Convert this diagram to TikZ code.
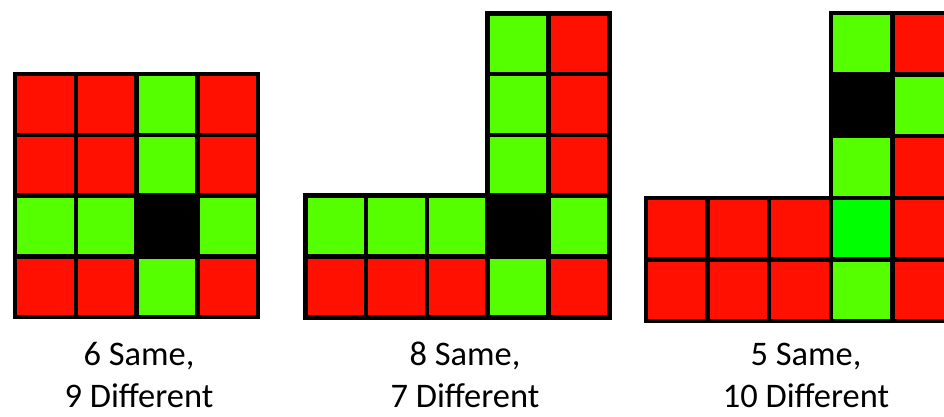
\documentclass[tikz,border=0pt]{standalone}
\usepackage{fontspec}
\setmainfont{Carlito}
\usepackage{tikz}
\usetikzlibrary{positioning}
\definecolor{cellred}{RGB}{255,16,0}
\definecolor{cellgreen}{RGB}{85,255,0}
\definecolor{celllime}{RGB}{0,255,0}

\begin{document}
\begin{tikzpicture}[x=0.025cm, y=-0.025cm]

\tikzset{
    cell/.style={draw=black, line width=0.1125cm, minimum size=1.52cm, inner sep=0pt},
    caption/.style={align=center, inner sep=0pt, font=\fontsize{24.5}{29.8}\selectfont}
}
\clip (0,0) rectangle (944,416);

% GRIGLIA 1 (4x4)
\begin{scope}[shift={(15,74)}]
    \foreach \row [count=\r from 0] in {{cellred,cellred,cellgreen,cellred},
                                        {cellred,cellred,cellgreen,cellred},
                                        {cellgreen,cellgreen,black,cellgreen},
                                        {cellred,cellred,cellgreen,cellred}}
        \foreach \col [count=\c from 0] in \row
            \node[cell, fill=\col] (ga-\r-\c) at ({60.8*(\c+0.5)}, {60.8*(\r+0.5)}) {};
\end{scope}
\node[caption] (lbla) at (139,375) {6 Same,\\9 Different};

% GRIGLIA 2 (a L)
\begin{scope}[shift={(305.3,13.3)}]
    % colonna alta
    \foreach \row [count=\r from 0] in {{cellgreen,cellred},{cellgreen,cellred},{cellgreen,cellred}}
        \foreach \col [count=\c from 3] in \row
            \node[cell, fill=\col] (gb-\r-\c) at ({60.8*(\c+0.5)}, {60.8*(\r+0.5)}) {};
    % fascia bassa
    \foreach \row [count=\r from 3] in {{cellgreen,cellgreen,cellgreen,black,cellgreen},
                                        {cellred,cellred,cellred,cellgreen,cellred}}
        \foreach \col [count=\c from 0] in \row
            \node[cell, fill=\col] (gb-\r-\c) at ({60.8*(\c+0.5)}, {60.8*(\r+0.5)}) {};
\end{scope}
\node[caption] (lblb) at (465,375) {8 Same,\\7 Different};

% GRIGLIA 3 (a L, tagliata a destra)
\begin{scope}[shift={(646,13)}]
    \tikzset{cell/.append style={minimum size=1.54cm}}
    % colonna alta
    \foreach \row [count=\r from 0] in {{cellgreen,cellred},{black,cellgreen},{cellgreen,cellred}}
        \foreach \col [count=\c from 3] in \row
            \node[cell, fill=\col] (gc-\r-\c) at ({61.6*(\c+0.5)}, {61.6*(\r+0.5)}) {};
    % fascia bassa
    \foreach \row [count=\r from 3] in {{cellred,cellred,cellred,celllime,cellred},
                                        {cellred,cellred,cellred,cellgreen,cellred}}
        \foreach \col [count=\c from 0] in \row
            \node[cell, fill=\col] (gc-\r-\c) at ({61.6*(\c+0.5)}, {61.6*(\r+0.5)}) {};
\end{scope}
\node[caption] (lblc) at (806,375) {5 Same,\\10 Different};

\end{tikzpicture}
\end{document}
